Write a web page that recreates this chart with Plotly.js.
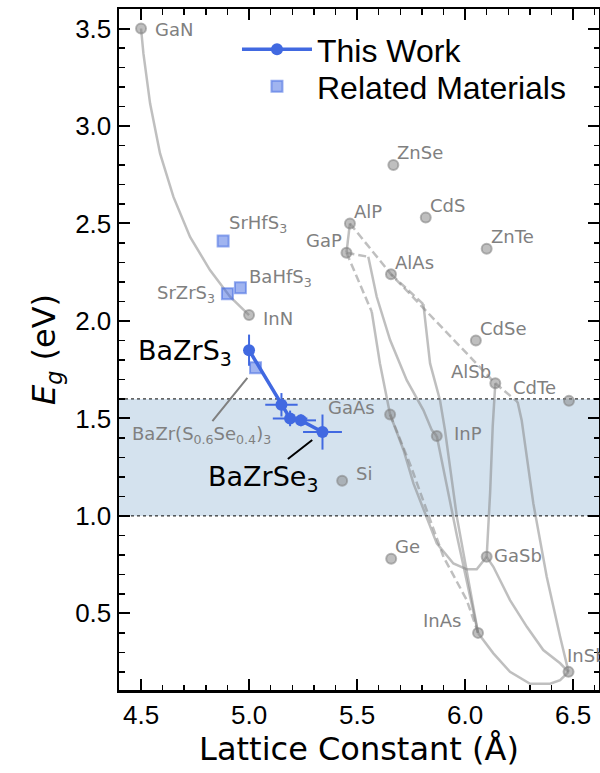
<!DOCTYPE html>
<html>
<head>
<meta charset="utf-8">
<script src="https://cdn.plot.ly/plotly-3.0.1.min.js"></script>
<style>
  html, body { margin: 0; padding: 0; background: #fff; }
  #chart { width: 600px; height: 773px; }
</style>
</head>
<body>
<div id="chart"></div>
<script>
// Binary semiconductors: lattice constant (Å) and band gap (eV)
const binaryNames = ['GaN', 'InN', 'AlP', 'GaP', 'AlAs', 'GaAs', 'InP', 'Si', 'Ge', 'AlSb', 'GaSb', 'InAs', 'InSb', 'ZnSe', 'CdS', 'ZnTe', 'CdSe', 'CdTe'];
const binaryA  = [4.50, 5.00, 5.467, 5.451, 5.657, 5.653, 5.869, 5.431, 5.658, 6.140, 6.100, 6.060, 6.479, 5.668, 5.818, 6.100, 6.050, 6.481];
const binaryEg = [3.50, 2.03, 2.50, 2.35, 2.24, 1.52, 1.41, 1.18, 0.78, 1.68, 0.79, 0.40, 0.20, 2.80, 2.53, 2.37, 1.90, 1.59];

// Related chalcogenide perovskites
const relatedNames = ['SrHfS<sub>3</sub>', 'BaHfS<sub>3</sub>', 'SrZrS<sub>3</sub>', 'BaZr(S<sub>0.6</sub>Se<sub>0.4</sub>)<sub>3</sub>'];
const relatedA  = [4.88, 4.96, 4.90, 5.03];
const relatedEg = [2.41, 2.17, 2.14, 1.76];

// BaZr(S,Se)3 series from this work, with uncertainties
const workA     = [5.00, 5.15, 5.19, 5.24, 5.34];
const workEg    = [1.85, 1.57, 1.50, 1.49, 1.43];
const workAErr  = [0.00, 0.075, 0.08, 0.07, 0.09];
const workEgErr = [0.08, 0.06, 0.04, 0.03, 0.09];

// Alloy curves between binaries (solid = direct gap, dashed = indirect gap)
const ganInnA  = [4.50, 4.511, 4.542, 4.588, 4.650, 4.727, 4.819, 4.912, 5.00];
const ganInnEg = [3.50, 3.372, 3.115, 2.859, 2.636, 2.431, 2.261, 2.124, 2.03];

const alpGapA  = [5.467, 5.451];
const alpGapEg = [2.50, 2.35];

const alpAlasAlsbA  = [5.467, 5.657, 6.140];
const alpAlasAlsbEg = [2.50, 2.24, 1.68];

const alsbInsbIndA  = [6.140, 6.243];
const alsbInsbIndEg = [1.68, 1.585];
const alsbInsbA  = [6.243, 6.262, 6.316, 6.378, 6.440, 6.479];
const alsbInsbEg = [1.585, 1.491, 1.064, 0.688, 0.380, 0.20];

const gapGaasIndA  = [5.451, 5.568];
const gapGaasIndEg = [2.35, 2.047];
const gapGaasA  = [5.568, 5.606, 5.653];
const gapGaasEg = [2.047, 1.782, 1.52];

const gapInpIndA  = [5.451, 5.552];
const gapInpIndEg = [2.35, 2.329];
const gapInpA  = [5.552, 5.591, 5.653, 5.730, 5.807, 5.846, 5.869];
const gapInpEg = [2.329, 2.124, 1.902, 1.696, 1.543, 1.440, 1.41];

const alasInasIndA  = [5.657, 5.807];
const alasInasIndEg = [2.24, 2.086];
const alasInasA  = [5.807, 5.838, 5.884, 5.907, 5.962, 6.060];
const alasInasEg = [2.086, 1.782, 1.593, 1.440, 0.995, 0.40];

const inpInasA  = [5.869, 5.962, 6.060];
const inpInasEg = [1.41, 0.90, 0.40];

const gaasInasA  = [5.653, 5.750, 5.900, 6.008, 6.060];
const gaasInasEg = [1.52, 1.252, 0.790, 0.568, 0.40];

const gaasGasbA  = [5.653, 5.715, 5.761, 5.815, 5.869, 5.946, 6.008, 6.054, 6.100];
const gaasGasbEg = [1.52, 1.338, 1.167, 1.013, 0.859, 0.756, 0.726, 0.726, 0.79];

const alsbGasbA  = [6.140, 6.128, 6.116, 6.100];
const alsbGasbEg = [1.68, 1.46, 1.12, 0.79];

const gasbInsbA  = [6.100, 6.131, 6.208, 6.286, 6.362, 6.440, 6.479];
const gasbInsbEg = [0.79, 0.739, 0.568, 0.431, 0.312, 0.244, 0.20];

const inasInsbA  = [6.060, 6.131, 6.208, 6.301, 6.394, 6.440, 6.479];
const inasInsbEg = [0.40, 0.295, 0.200, 0.139, 0.139, 0.158, 0.20];

// Target band-gap window for photovoltaics
const bandLow = 1.0, bandHigh = 1.6;

// ---- styling ----
const GRAY_LINE = 'rgba(128,128,128,0.5)';
const GRAY_FILL = 'rgba(128,128,128,0.5)';
const BLUE = '#4169E1';
const LABEL_FONT = { family: 'DejaVu Sans', size: 18, color: '#808080' };

// label placement: [xshift px, yshift px, anchor]
const labelPos = {
  GaN: [12, -1, 'left'], InN: [12, -3, 'left'], AlP: [2, 12, 'left'], GaP: [-2, 12, 'right'],
  AlAs: [2, 12, 'left'], GaAs: [-13, 7, 'right'], InP: [15, 2, 'left'], Si: [12, 7, 'left'],
  Ge: [2, 12, 'left'], AlSb: [-2, 12, 'right'], GaSb: [5, 1, 'left'], InAs: [-15, 12, 'right'],
  InSb: [-4, 16, 'left'], ZnSe: [2, 12, 'left'], CdS: [2, 12, 'left'], ZnTe: [2, 12, 'left'],
  CdSe: [2, 12, 'left'], CdTe: [-11, 13, 'right']
};
const relatedPos = [[4, 17, 'left'], [7, 10, 'left'], [-10, 0, 'right']];

const traces = [];
function curve(xs, ys, dashed) {
  traces.push({
    x: xs, y: ys, type: 'scatter', mode: 'lines', showlegend: false, hoverinfo: 'skip',
    line: { color: GRAY_LINE, width: 2.5, dash: dashed ? '8px,4px' : 'solid' }
  });
}
curve(ganInnA, ganInnEg, false);
curve(alpGapA, alpGapEg, false);
curve(alpAlasAlsbA, alpAlasAlsbEg, true);
curve(alsbInsbIndA, alsbInsbIndEg, true);
curve(alsbInsbA, alsbInsbEg, false);
curve(gapGaasIndA, gapGaasIndEg, true);
curve(gapGaasA, gapGaasEg, false);
curve(gapInpIndA, gapInpIndEg, true);
curve(gapInpA, gapInpEg, false);
curve(alasInasIndA, alasInasIndEg, true);
curve(alasInasA, alasInasEg, false);
curve(inpInasA, inpInasEg, false);
curve(gaasInasA, gaasInasEg, true);
curve(gaasGasbA, gaasGasbEg, false);
curve(alsbGasbA, alsbGasbEg, false);
curve(gasbInsbA, gasbInsbEg, false);
curve(inasInsbA, inasInsbEg, false);

// binaries
traces.push({
  x: binaryA, y: binaryEg, type: 'scatter', mode: 'markers', showlegend: false, hoverinfo: 'skip',
  marker: { symbol: 'circle', size: 10, color: GRAY_FILL, line: { color: 'rgba(128,128,128,0.55)', width: 2 } }
});

// this work
traces.push({
  x: workA, y: workEg, type: 'scatter', mode: 'lines+markers', name: 'This Work', legend: 'legend',
  line: { color: BLUE, width: 3.5 },
  marker: { symbol: 'circle', size: 12, color: BLUE },
  error_x: { type: 'data', array: workAErr, visible: true, color: BLUE, thickness: 2, width: 0 },
  error_y: { type: 'data', array: workEgErr, visible: true, color: BLUE, thickness: 2, width: 0 }
});

// related materials
traces.push({
  x: relatedA, y: relatedEg, type: 'scatter', mode: 'markers', name: 'Related Materials', legend: 'legend2',
  marker: { symbol: 'square', size: 11, color: 'rgba(65,105,225,0.5)', line: { color: 'rgba(65,105,225,0.55)', width: 2 } }
});

const annotations = [];
binaryNames.forEach((n, i) => {
  const p = labelPos[n];
  annotations.push({
    x: binaryA[i], y: binaryEg[i], xref: 'x', yref: 'y', text: n, showarrow: false,
    xanchor: p[2], yanchor: 'middle', xshift: p[0], yshift: p[1], font: LABEL_FONT
  });
});
relatedPos.forEach((p, i) => {
  annotations.push({
    x: relatedA[i], y: relatedEg[i], xref: 'x', yref: 'y', text: relatedNames[i], showarrow: false,
    xanchor: p[2], yanchor: 'middle', xshift: p[0], yshift: p[1], font: LABEL_FONT
  });
});
// mixed-anion composition, with leader line
annotations.push({
  x: relatedA[3], y: relatedEg[3], xref: 'x', yref: 'y', text: relatedNames[3],
  showarrow: true, arrowhead: 0, arrowwidth: 2, arrowcolor: '#808080', standoff: 13,
  ax: -54, ay: 67, font: LABEL_FONT
});
// end members of this work
annotations.push({
  x: workA[0], y: workEg[0], xref: 'x', yref: 'y', text: 'BaZrS<sub>3</sub>', showarrow: false,
  xanchor: 'right', yanchor: 'middle', xshift: -15, yshift: -2,
  font: { family: 'DejaVu Sans', size: 27, color: '#000' }
});
annotations.push({
  x: workA[4], y: workEg[4], xref: 'x', yref: 'y', text: 'BaZrSe<sub>3</sub>',
  showarrow: true, arrowhead: 0, arrowwidth: 2, arrowcolor: '#000', standoff: 13,
  ax: -59, ay: 46, font: { family: 'DejaVu Sans', size: 27, color: '#000' }
});

const shapes = [
  { type: 'rect', xref: 'paper', yref: 'y', x0: 0, x1: 1, y0: bandLow, y1: bandHigh,
    fillcolor: 'rgba(70,130,180,0.23)', line: { width: 0 }, layer: 'below' },
  { type: 'line', xref: 'paper', yref: 'y', x0: 0, x1: 1, y0: bandLow, y1: bandLow,
    line: { color: '#000', width: 1, dash: 'dot' }, layer: 'below' },
  { type: 'line', xref: 'paper', yref: 'y', x0: 0, x1: 1, y0: bandHigh, y1: bandHigh,
    line: { color: '#000', width: 1, dash: 'dot' }, layer: 'below' }
];

const axisCommon = {
  showline: true, linecolor: '#000', linewidth: 2.5, mirror: 'allticks',
  ticks: 'inside', ticklen: 11, tickwidth: 2, tickcolor: '#000',
  showgrid: false, zeroline: false,
  tickfont: { family: 'Liberation Sans', size: 26, color: '#000' }
};

const legendCommon = {
  xanchor: 'left', yanchor: 'top',
  bgcolor: 'rgba(0,0,0,0)', borderwidth: 0,
  font: { family: 'Liberation Sans', size: 32, color: '#000' },
  itemwidth: 70
};

const layout = {
  width: 600, height: 773,
  margin: { l: 119, r: 1, t: 9, b: 83, pad: 0 },
  paper_bgcolor: '#fff', plot_bgcolor: '#fff',
  xaxis: Object.assign({}, axisCommon, {
    range: [4.398, 6.62], tick0: 4.5, dtick: 0.5, tickformat: '.1f',
    minor: { dtick: 0.1, ticks: 'inside', ticklen: 5.5, tickwidth: 1.5, tickcolor: '#000' },
    title: { text: 'Lattice Constant (Å)', font: { family: 'DejaVu Sans', size: 32, color: '#000' }, standoff: 8 }
  }),
  yaxis: Object.assign({}, axisCommon, {
    range: [0.107, 3.6], tick0: 0.5, dtick: 0.5, tickformat: '.1f',
    minor: { dtick: 0.1, ticks: 'inside', ticklen: 5.5, tickwidth: 1.5, tickcolor: '#000' },
    title: { text: '<i>E</i><sub><i>g</i></sub> (eV)', font: { family: 'DejaVu Sans', size: 32, color: '#000' }, standoff: 10 }
  }),
  showlegend: true,
  legend: Object.assign({}, legendCommon, { x: 0.2458, y: 0.981 }),
  legend2: Object.assign({}, legendCommon, { x: 0.2458, y: 0.9266 }),
  shapes: shapes,
  annotations: annotations
};

Plotly.newPlot('chart', traces, layout, { staticPlot: true, displayModeBar: false });
</script>
</body>
</html>
